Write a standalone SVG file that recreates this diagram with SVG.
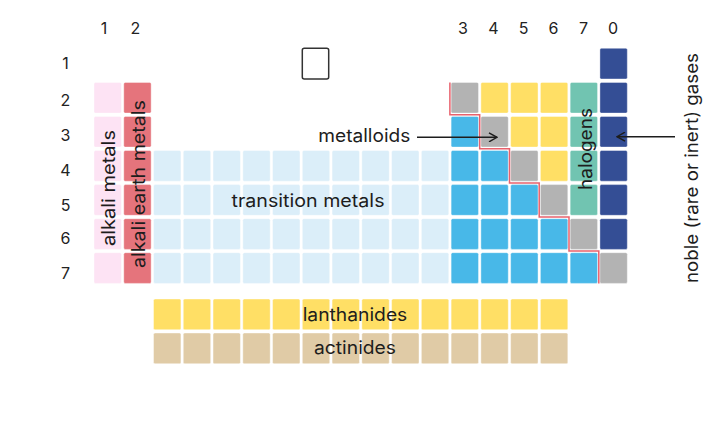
<svg xmlns="http://www.w3.org/2000/svg" xmlns:xlink="http://www.w3.org/1999/xlink" width="726" height="423" viewBox="0 0 726 423">
<style>
.t{font-family:Inter,"Liberation Sans",sans-serif;font-size:18px;fill:#1d1d1d}
.n{font-family:Inter,"Liberation Sans",sans-serif;font-size:16px;fill:#222;text-anchor:middle}
.pk{fill:#fde3f4}.rd{fill:#e5747c}.lb{fill:#dbeef9}.bl{fill:#48b8e8}.gy{fill:#b3b3b3}
.ye{fill:#ffdf65}.te{fill:#71c4b1}.db{fill:#344e95}.tn{fill:#e0cba6}
.cl use{stroke:#ffffff;stroke-opacity:0.4;stroke-width:1}
.ar{fill:none;stroke:#1d1d1d;stroke-width:1.5}
</style>
<defs>
<rect id="c" width="27.4" height="30.7" rx="1.5"/>
<marker id="ah" viewBox="0 0 10 10" refX="9" refY="5" markerWidth="10" markerHeight="10" markerUnits="userSpaceOnUse" orient="auto">
<path d="M1,0.5 L9,5 L1,9.5" fill="none" stroke="#1d1d1d" stroke-width="1.5"/>
</marker>
</defs>
<rect width="726" height="423" fill="#ffffff"/>

<g id="col-numbers">
<text class="n" x="104" y="34">1</text>
<text class="n" x="135.5" y="34">2</text>
<text class="n" x="463" y="34">3</text>
<text class="n" x="493.5" y="34">4</text>
<text class="n" x="523.5" y="34">5</text>
<text class="n" x="553.5" y="34">6</text>
<text class="n" x="583.5" y="34">7</text>
<text class="n" x="613" y="34">0</text>
</g>
<g id="row-numbers">
<text class="n" x="65.5" y="69">1</text>
<text class="n" x="65.5" y="105.5">2</text>
<text class="n" x="65.5" y="140.5">3</text>
<text class="n" x="65.5" y="176">4</text>
<text class="n" x="65.5" y="210.5">5</text>
<text class="n" x="65.5" y="244">6</text>
<text class="n" x="65.5" y="279">7</text>
</g>

<g id="hydrogen">
<rect x="302.3" y="48.3" width="26.4" height="30.7" rx="2" fill="#ffffff" stroke="#333333" stroke-width="1.5"/>
</g>

<g id="alkali-metals" class="cl pk">
<use href="#c" x="94" y="82.4"/><use href="#c" x="94" y="116.4"/><use href="#c" x="94" y="150.5"/>
<use href="#c" x="94" y="184.6"/><use href="#c" x="94" y="218.7"/><use href="#c" x="94" y="252.7"/>
<text class="t" transform="translate(115,188) rotate(-90)" text-anchor="middle" textLength="116" lengthAdjust="spacingAndGlyphs">alkali metals</text>
</g>

<g id="alkali-earth-metals" class="cl rd">
<use href="#c" x="123.76" y="82.4"/><use href="#c" x="123.76" y="116.4"/><use href="#c" x="123.76" y="150.5"/>
<use href="#c" x="123.76" y="184.6"/><use href="#c" x="123.76" y="218.7"/><use href="#c" x="123.76" y="252.7"/>
<text class="t" transform="translate(145,184) rotate(-90)" text-anchor="middle" textLength="168" lengthAdjust="spacingAndGlyphs">alkali earth metals</text>
</g>

<g id="transition-metals" class="cl lb">
<use href="#c" x="153.52" y="150.5"/><use href="#c" x="183.28" y="150.5"/><use href="#c" x="213.04" y="150.5"/><use href="#c" x="242.8" y="150.5"/><use href="#c" x="272.56" y="150.5"/>
<use href="#c" x="302.32" y="150.5"/><use href="#c" x="332.08" y="150.5"/><use href="#c" x="361.84" y="150.5"/><use href="#c" x="391.6" y="150.5"/><use href="#c" x="421.36" y="150.5"/>
<use href="#c" x="153.52" y="184.6"/><use href="#c" x="183.28" y="184.6"/><use href="#c" x="213.04" y="184.6"/><use href="#c" x="242.8" y="184.6"/><use href="#c" x="272.56" y="184.6"/>
<use href="#c" x="302.32" y="184.6"/><use href="#c" x="332.08" y="184.6"/><use href="#c" x="361.84" y="184.6"/><use href="#c" x="391.6" y="184.6"/><use href="#c" x="421.36" y="184.6"/>
<use href="#c" x="153.52" y="218.7"/><use href="#c" x="183.28" y="218.7"/><use href="#c" x="213.04" y="218.7"/><use href="#c" x="242.8" y="218.7"/><use href="#c" x="272.56" y="218.7"/>
<use href="#c" x="302.32" y="218.7"/><use href="#c" x="332.08" y="218.7"/><use href="#c" x="361.84" y="218.7"/><use href="#c" x="391.6" y="218.7"/><use href="#c" x="421.36" y="218.7"/>
<use href="#c" x="153.52" y="252.7"/><use href="#c" x="183.28" y="252.7"/><use href="#c" x="213.04" y="252.7"/><use href="#c" x="242.8" y="252.7"/><use href="#c" x="272.56" y="252.7"/>
<use href="#c" x="302.32" y="252.7"/><use href="#c" x="332.08" y="252.7"/><use href="#c" x="361.84" y="252.7"/><use href="#c" x="391.6" y="252.7"/><use href="#c" x="421.36" y="252.7"/>
<text class="t" x="231.5" y="206.7" textLength="153" lengthAdjust="spacingAndGlyphs">transition metals</text>
</g>

<g id="metals" class="cl bl">
<use href="#c" x="451.12" y="116.4"/><use href="#c" x="451.12" y="150.5"/><use href="#c" x="451.12" y="184.6"/><use href="#c" x="451.12" y="218.7"/><use href="#c" x="451.12" y="252.7"/>
<use href="#c" x="480.88" y="150.5"/><use href="#c" x="480.88" y="184.6"/><use href="#c" x="480.88" y="218.7"/><use href="#c" x="480.88" y="252.7"/>
<use href="#c" x="510.64" y="184.6"/><use href="#c" x="510.64" y="218.7"/><use href="#c" x="510.64" y="252.7"/>
<use href="#c" x="540.4" y="218.7"/><use href="#c" x="540.4" y="252.7"/>
<use href="#c" x="570.16" y="252.7"/>
</g>

<g id="metalloids" class="cl gy">
<use href="#c" x="451.12" y="82.4"/><use href="#c" x="480.88" y="116.4"/><use href="#c" x="510.64" y="150.5"/>
<use href="#c" x="540.4" y="184.6"/><use href="#c" x="570.16" y="218.7"/><use href="#c" x="599.92" y="252.7"/>
<text class="t" x="318.3" y="141.7" textLength="92" lengthAdjust="spacingAndGlyphs">metalloids</text>
</g>

<g id="non-metals" class="cl ye">
<use href="#c" x="480.88" y="82.4"/><use href="#c" x="510.64" y="82.4"/><use href="#c" x="540.4" y="82.4"/>
<use href="#c" x="510.64" y="116.4"/><use href="#c" x="540.4" y="116.4"/>
<use href="#c" x="540.4" y="150.5"/>
</g>

<g id="halogens" class="cl te">
<use href="#c" x="570.16" y="82.4"/><use href="#c" x="570.16" y="116.4"/><use href="#c" x="570.16" y="150.5"/><use href="#c" x="570.16" y="184.6"/>
<text class="t" transform="translate(592,149) rotate(-90)" text-anchor="middle" textLength="82" lengthAdjust="spacingAndGlyphs">halogens</text>
</g>

<g id="noble-gases" class="cl db">
<use href="#c" x="599.92" y="48.3"/><use href="#c" x="599.92" y="82.4"/><use href="#c" x="599.92" y="116.4"/>
<use href="#c" x="599.92" y="150.5"/><use href="#c" x="599.92" y="184.6"/><use href="#c" x="599.92" y="218.7"/>
<text class="t" transform="translate(698,168) rotate(-90)" text-anchor="middle" textLength="230" lengthAdjust="spacingAndGlyphs">noble (rare or inert) gases</text>
</g>

<g id="lanthanides" class="cl ye">
<use href="#c" x="153.52" y="299"/><use href="#c" x="183.28" y="299"/><use href="#c" x="213.04" y="299"/><use href="#c" x="242.8" y="299"/><use href="#c" x="272.56" y="299"/>
<use href="#c" x="302.32" y="299"/><use href="#c" x="332.08" y="299"/><use href="#c" x="361.84" y="299"/><use href="#c" x="391.6" y="299"/><use href="#c" x="421.36" y="299"/>
<use href="#c" x="451.12" y="299"/><use href="#c" x="480.88" y="299"/><use href="#c" x="510.64" y="299"/><use href="#c" x="540.4" y="299"/>
<text class="t" x="302.7" y="320.7" textLength="104.6" lengthAdjust="spacingAndGlyphs">lanthanides</text>
</g>

<g id="actinides" class="cl tn">
<use href="#c" x="153.52" y="333"/><use href="#c" x="183.28" y="333"/><use href="#c" x="213.04" y="333"/><use href="#c" x="242.8" y="333"/><use href="#c" x="272.56" y="333"/>
<use href="#c" x="302.32" y="333"/><use href="#c" x="332.08" y="333"/><use href="#c" x="361.84" y="333"/><use href="#c" x="391.6" y="333"/><use href="#c" x="421.36" y="333"/>
<use href="#c" x="451.12" y="333"/><use href="#c" x="480.88" y="333"/><use href="#c" x="510.64" y="333"/><use href="#c" x="540.4" y="333"/>
<text class="t" x="314" y="354.3" textLength="82" lengthAdjust="spacingAndGlyphs">actinides</text>
</g>

<g id="metal-boundary">
<path d="M449.9,82.4 V114.7 H479.7 V148.8 H509.5 V182.9 H539.2 V216.9 H569 V251 H598.8 V283.4" fill="none" stroke="#e8616c" stroke-width="1.5"/>
</g>

<g id="connectors">
<line class="ar" x1="417" y1="137.3" x2="497" y2="137.3" marker-end="url(#ah)"/>
<line class="ar" x1="675" y1="136.7" x2="617" y2="136.7" marker-end="url(#ah)"/>
</g>
</svg>
